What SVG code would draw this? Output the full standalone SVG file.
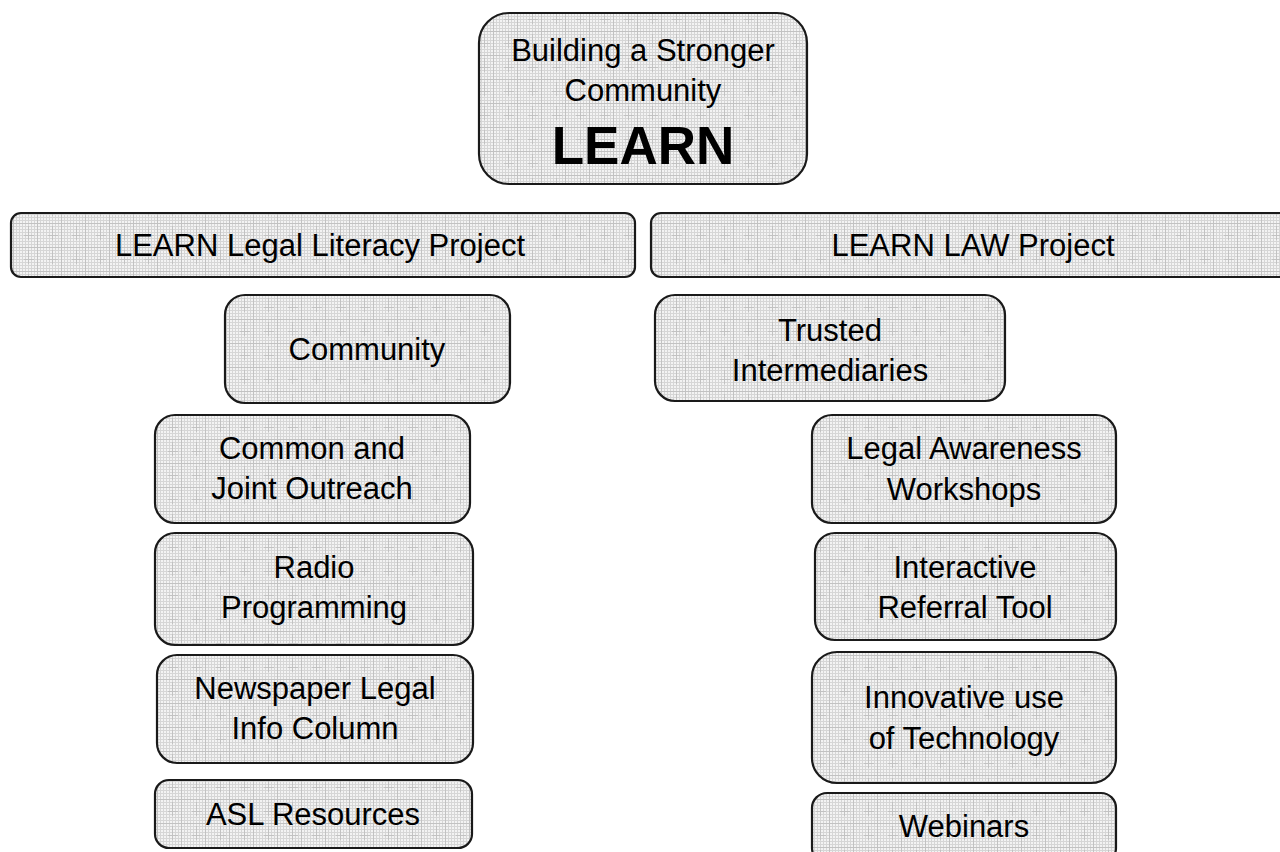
<svg xmlns="http://www.w3.org/2000/svg" width="1280" height="852" viewBox="0 0 1280 852">
<defs>
<pattern id="tex" width="24" height="24" patternUnits="userSpaceOnUse">
<rect width="24" height="24" fill="#f3f3f3"/>
<path d="M0 1.5H24M0 4.5H24M0 7.5H24M0 10.5H24M0 13.5H24M0 16.5H24M0 19.5H24M0 22.5H24M1.5 0V24M4.5 0V24M7.5 0V24M10.5 0V24M13.5 0V24M16.5 0V24M19.5 0V24M22.5 0V24" stroke="#d6d6d6" stroke-width="1"/>
<path d="M0 7.5H24M13.5 0V24M0 19.5H10M4.5 10V24" stroke="#b9b9b9" stroke-width="1" opacity="0.7"/>
</pattern>
</defs>
<style>
.box{fill:url(#tex);stroke:#1a1a1a;stroke-width:2.2}
.t{font-family:"Liberation Sans",Arial,sans-serif;font-size:31px;fill:#000;text-anchor:middle}
.b{font-family:"Liberation Sans",Arial,sans-serif;font-size:53px;font-weight:bold;fill:#000;text-anchor:middle}
</style>
<rect width="1280" height="852" fill="#fff"/>
<g id="connectors"/>
<g id="top">
<rect class="box" x="479" y="13" width="328" height="171" rx="30"/>
<text class="t" x="643" y="61">Building a Stronger</text>
<text class="t" x="643" y="101">Community</text>
<text class="b" x="643" y="164">LEARN</text>
</g>
<g id="literacy">
<rect class="box" x="11" y="213" width="624" height="64" rx="10"/>
<text class="t" x="320" y="256">LEARN Legal Literacy Project</text>
</g>
<g id="law">
<rect class="box" x="651" y="213" width="644" height="64" rx="10"/>
<text class="t" x="973" y="256">LEARN LAW Project</text>
</g>
<g id="community">
<rect class="box" x="225" y="295" width="285" height="108" rx="20"/>
<text class="t" x="367" y="360">Community</text>
</g>
<g id="trusted">
<rect class="box" x="655" y="295" width="350" height="106" rx="20"/>
<text class="t" x="830" y="341">Trusted</text>
<text class="t" x="830" y="381">Intermediaries</text>
</g>
<g id="outreach">
<rect class="box" x="155" y="415" width="315" height="108" rx="20"/>
<text class="t" x="312" y="459">Common and</text>
<text class="t" x="312" y="499">Joint Outreach</text>
</g>
<g id="radio">
<rect class="box" x="155" y="533" width="318" height="112" rx="20"/>
<text class="t" x="314" y="578">Radio</text>
<text class="t" x="314" y="618">Programming</text>
</g>
<g id="newspaper">
<rect class="box" x="157" y="655" width="316" height="108" rx="20"/>
<text class="t" x="315" y="699">Newspaper Legal</text>
<text class="t" x="315" y="739">Info Column</text>
</g>
<g id="asl">
<rect class="box" x="155" y="780" width="317" height="68" rx="14"/>
<text class="t" x="313" y="825">ASL Resources</text>
</g>
<g id="workshops">
<rect class="box" x="812" y="415" width="304" height="108" rx="20"/>
<text class="t" x="964" y="459">Legal Awareness</text>
<text class="t" x="964" y="500">Workshops</text>
</g>
<g id="referral">
<rect class="box" x="815" y="533" width="301" height="107" rx="20"/>
<text class="t" x="965" y="578">Interactive</text>
<text class="t" x="965" y="618">Referral Tool</text>
</g>
<g id="technology">
<rect class="box" x="812" y="652" width="304" height="131" rx="25"/>
<text class="t" x="964" y="708">Innovative use</text>
<text class="t" x="964" y="749">of Technology</text>
</g>
<g id="webinars">
<rect class="box" x="812" y="793" width="304" height="70" rx="15"/>
<text class="t" x="964" y="837">Webinars</text>
</g>
</svg>
